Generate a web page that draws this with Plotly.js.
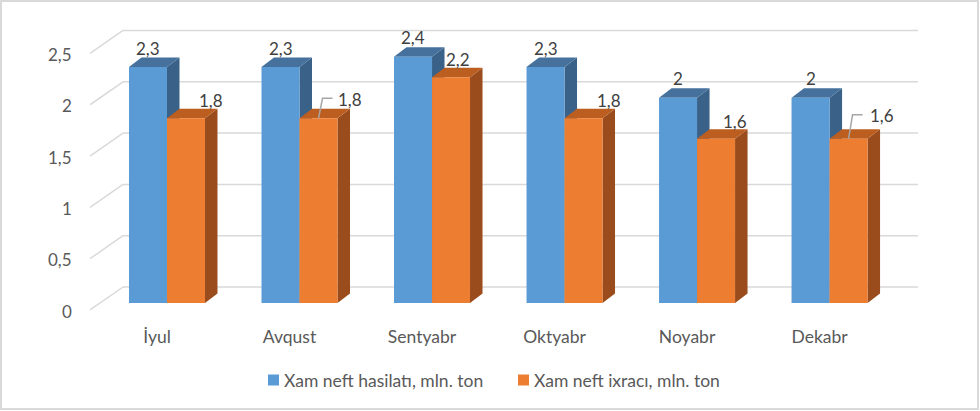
<!DOCTYPE html>
<html>
<head>
<meta charset="utf-8">
<script src="https://cdn.plot.ly/plotly-3.0.1.min.js"></script>
<style>
  body { margin: 0; background: #fff; }
  #chart { width: 980px; height: 411px; }
</style>
</head>
<body>
<div id="chart"></div>
<script>
// chart data
var months = ['İyul', 'Avqust', 'Sentyabr', 'Oktyabr', 'Noyabr', 'Dekabr'];
var hasilat = [2.3, 2.3, 2.4, 2.3, 2, 2];
var ixrac = [1.8, 1.8, 2.2, 1.8, 1.6, 1.6];
var yTicks = [0, 0.5, 1, 1.5, 2, 2.5];
var seriesNames = ['Xam neft hasilatı, mln. ton', 'Xam neft ixracı, mln. ton'];

// label placement for the orange values (pixel offsets), leader line where Excel drew one
var ixracDx = [25, 31, 7, 25, 19, 33];
var ixracDy = [18, 19, 18, 18, 17, 23];
var ixracLeader = [false, true, false, false, false, true];

// plot area in pixels
var W = 980, H = 411, L = 90, R = 930, T = 20, B = 320;
var xRange = [-0.581, 5.758];
var yRange = [-0.1657, 2.758];
var pxPerX = (R - L) / (xRange[1] - xRange[0]);
var pxPerY = (B - T) / (yRange[1] - yRange[0]);
function dxu(px) { return px / pxPerX; }
function dyu(px) { return px / pxPerY; }
function xAt(px) { return xRange[0] + (px - L) / pxPerX; }

var bargap = 0.4264;
var bw = (1 - bargap) / 2;
var depthX = dxu(12.5), depthY = dyu(9.5);

var font = 'Lato, "Open Sans", sans-serif';
var grey = '#595959';
var fronts = ['#5B9BD5', '#ED7D31'];
var tops = ['#45719C', '#BC5E20'];
var sides = ['#3A6289', '#9A4C1C'];

function fmt(v) { return String(v).replace('.', ','); }

var shapes = [];

// back wall gridlines + floor diagonals
var backLeft = xAt(123), backRight = xAt(918), frontLeft = xAt(90);
yTicks.forEach(function (v) {
  var yb = v + dyu(16);
  shapes.push({type: 'line', layer: 'below', xref: 'x', yref: 'y',
    x0: backLeft, x1: backRight, y0: yb, y1: yb,
    line: {color: '#D9D9D9', width: 1.5}});
  shapes.push({type: 'line', layer: 'below', xref: 'x', yref: 'y',
    x0: frontLeft, x1: backLeft, y0: v - dyu(7), y1: yb,
    line: {color: '#D9D9D9', width: 1.5}});
});

// 3d faces of the bars, sides then tops, blue first so orange tops cover blue sides
[hasilat, ixrac].forEach(function (vals, k) {
  vals.forEach(function (v, i) {
    var left = i - bw + k * bw, right = left + bw;
    shapes.push({type: 'path', layer: 'below', xref: 'x', yref: 'y',
      path: 'M' + right + ',0 L' + (right + depthX) + ',' + depthY +
            ' L' + (right + depthX) + ',' + (v + depthY) + ' L' + right + ',' + v + ' Z',
      fillcolor: sides[k], line: {width: 0}});
    shapes.push({type: 'path', layer: 'below', xref: 'x', yref: 'y',
      path: 'M' + left + ',' + v + ' L' + right + ',' + v +
            ' L' + (right + depthX) + ',' + (v + depthY) + ' L' + (left + depthX) + ',' + (v + depthY) + ' Z',
      fillcolor: tops[k], line: {width: 0}});
  });
});

// chart border
function px2paperX(px) { return (px - L) / (R - L); }
function px2paperY(py) { return (B - py) / (B - T); }
shapes.push({type: 'rect', xref: 'paper', yref: 'paper', layer: 'above',
  x0: px2paperX(1), x1: px2paperX(978), y0: px2paperY(409), y1: px2paperY(1),
  line: {color: '#D9D9D9', width: 2}});

var annotations = [];

// legend drawn by hand so the swatch sits tight against the text like Excel
var legendX = [268, 518], legendY = 380;
seriesNames.forEach(function (name, k) {
  shapes.push({type: 'rect', xref: 'paper', yref: 'paper', layer: 'above',
    x0: px2paperX(legendX[k]), x1: px2paperX(legendX[k] + 11),
    y0: px2paperY(legendY + 5.5), y1: px2paperY(legendY - 5.5),
    fillcolor: fronts[k], line: {width: 0}});
  annotations.push({xref: 'paper', yref: 'paper', x: px2paperX(legendX[k] + 14), y: px2paperY(legendY),
    text: name, showarrow: false, xanchor: 'left', yanchor: 'middle',
    font: {family: font, size: 17.5, color: grey}});
});

// y tick labels at the front edge of the floor
yTicks.forEach(function (v) {
  annotations.push({xref: 'x', yref: 'y', x: frontLeft, y: v - dyu(8),
    text: fmt(v), showarrow: false, xanchor: 'right', yanchor: 'middle', xshift: -16,
    font: {family: font, size: 17, color: grey}});
});

// value labels
hasilat.forEach(function (v, i) {
  annotations.push({xref: 'x', yref: 'y', x: i - bw / 2, y: v,
    text: fmt(v), showarrow: false, xanchor: 'center', yanchor: 'middle', yshift: 19,
    font: {family: font, size: 17, color: '#404040'}});
});
ixrac.forEach(function (v, i) {
  var x = i + bw / 2;
  annotations.push({xref: 'x', yref: 'y', x: x, y: v, text: fmt(v),
    showarrow: false, xanchor: 'center', yanchor: 'middle',
    xshift: ixracDx[i], yshift: ixracDy[i],
    font: {family: font, size: 17, color: '#404040'}});
  if (ixracLeader[i]) {
    // bent leader: up from the bar top, then across toward the label
    var ye = v + dyu(ixracDy[i] + 1);
    shapes.push({type: 'path', layer: 'above', xref: 'x', yref: 'y',
      path: 'M' + x + ',' + v + ' L' + (x + dxu(4)) + ',' + ye + ' L' + (x + dxu(14)) + ',' + ye,
      line: {color: '#A6A6A6', width: 1.5}});
  }
});

var idx = months.map(function (m, i) { return i; });

var traces = [
  {type: 'bar', name: seriesNames[0], x: idx, y: hasilat,
   marker: {color: fronts[0], line: {width: 0}}, hoverinfo: 'skip'},
  {type: 'bar', name: seriesNames[1], x: idx, y: ixrac,
   marker: {color: fronts[1], line: {width: 0}}, hoverinfo: 'skip'}
];

var layout = {
  width: W, height: H,
  margin: {l: L, r: W - R, t: T, b: H - B, pad: 0},
  paper_bgcolor: '#FFFFFF', plot_bgcolor: 'rgba(0,0,0,0)',
  barmode: 'group', bargap: bargap, bargroupgap: 0,
  xaxis: {range: xRange, showgrid: false, zeroline: false, showline: false,
    tickmode: 'array', tickvals: idx.map(function (i) { return i - dxu(10); }), ticktext: months,
    ticks: '', tickfont: {family: font, size: 17.5, color: grey}, ticklabelstandoff: 4},
  yaxis: {range: yRange, showgrid: false, zeroline: false, showline: false,
    showticklabels: false, ticks: ''},
  showlegend: false,
  shapes: shapes,
  annotations: annotations,
  hovermode: false
};

Plotly.newPlot('chart', traces, layout, {displayModeBar: false, staticPlot: true});
</script>
</body>
</html>
